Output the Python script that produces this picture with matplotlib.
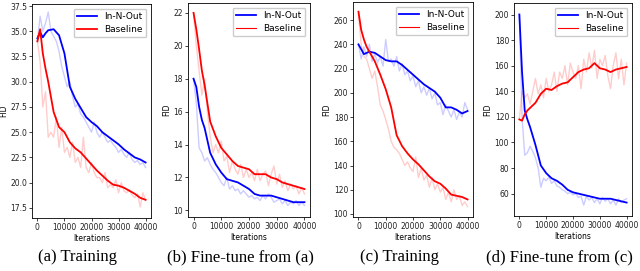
import matplotlib.pyplot as plt
from matplotlib.lines import Line2D

# iteration grids
x_raw = list(range(0, 40001, 1000))
x_smooth = [0, 1000, 2000, 3000, 4000] + list(range(6000, 40001, 2000))

# (a) Training
a_blue_raw = [34.0, 36.5, 35.0, 35.8, 36.9, 35.0, 34.5, 34.0, 33.0, 31.5, 30.5, 29.5, 30.0, 28.5, 27.5,
              27.8, 26.8, 26.5, 26.0, 25.5, 25.0, 26.0, 25.0, 24.5, 25.0, 24.5, 24.0, 24.2, 23.8, 23.5,
              23.0, 23.3, 22.8, 22.5, 23.0, 22.3, 22.0, 22.2, 21.8, 22.0, 21.5]
a_red_raw = [34.0, 32.0, 27.5, 29.0, 24.5, 25.0, 24.5, 26.5, 23.5, 25.5, 23.0, 23.5, 22.5, 24.0, 22.0,
             22.5, 21.5, 24.5, 21.5, 21.0, 22.0, 21.0, 20.5, 20.5, 20.0, 21.0, 19.5, 19.8, 19.5, 20.3,
             19.0, 20.0, 19.2, 19.0, 19.3, 18.8, 18.5, 18.9, 17.6, 19.0, 18.3]
a_blue = [34.3, 34.9, 34.4, 34.8, 35.1, 35.2, 34.6, 32.8, 29.5, 28.3, 27.4, 26.5, 26.0, 25.6, 25.0,
          24.6, 24.2, 23.8, 23.3, 22.9, 22.5, 22.3, 22.0]
a_red = [34.0, 35.2, 32.8, 31.3, 30.0, 27.0, 25.5, 25.0, 24.0, 23.4, 23.0, 22.4, 21.8, 21.2, 20.7,
         20.2, 19.8, 19.7, 19.5, 19.2, 18.9, 18.5, 18.3]

# (b) Fine-tune from (a)
b_blue_raw = [18.0, 16.5, 13.8, 13.5, 13.0, 13.2, 12.8, 12.5, 12.3, 12.0, 11.7, 11.5, 12.0, 11.3, 11.5,
              11.2, 11.3, 11.0, 11.2, 11.0, 10.8, 10.9, 10.7, 10.8, 10.6, 10.9, 10.7, 11.0, 10.8, 10.5,
              10.6, 10.7, 10.4, 10.6, 10.3, 10.5, 10.4, 10.6, 10.3, 10.5, 10.3]
b_red_raw = [22.0, 20.0, 18.5, 17.0, 18.0, 16.0, 14.5, 13.5, 14.0, 13.5, 14.2, 13.0, 13.3, 12.3, 13.0,
             12.5, 12.2, 12.8, 12.0, 12.5, 12.0, 12.3, 11.8, 12.5, 11.8, 12.2, 12.4, 11.5, 12.2, 12.7,
             11.6, 12.2, 11.4, 11.8, 11.2, 11.6, 11.3, 11.5, 11.0, 11.4, 11.0]
b_blue = [18.0, 17.5, 16.3, 15.5, 15.0, 13.5, 12.8, 12.3, 11.9, 11.8, 11.7, 11.5, 11.3, 11.0, 10.9,
          10.9, 10.9, 10.8, 10.7, 10.6, 10.5, 10.5, 10.5]
b_red = [22.0, 21.0, 19.8, 18.5, 17.6, 15.4, 14.5, 13.8, 13.4, 13.0, 12.7, 12.6, 12.5, 12.2, 12.2,
         12.2, 12.0, 11.9, 11.7, 11.6, 11.5, 11.4, 11.3]

# (c) Training
c_blue_raw = [240, 228, 238, 230, 240, 226, 232, 225, 230, 222, 244, 226, 228, 222, 230, 218, 224, 215,
              218, 210, 214, 205, 210, 200, 205, 198, 204, 195, 200, 190, 192, 182, 190, 185, 180, 186,
              178, 184, 180, 192, 186]
c_red_raw = [265, 240, 230, 228, 220, 212, 218, 205, 190, 185, 178, 170, 160, 155, 153, 150, 145, 140,
             143, 138, 135, 147, 130, 138, 128, 132, 122, 130, 120, 125, 118, 122, 112, 118, 110, 120,
             112, 115, 107, 110, 106]
c_blue = [240, 236, 232, 233, 234, 233, 230, 227, 226, 226, 223, 219, 215, 211, 207, 204, 201, 196,
          188, 188, 186, 183, 185]
c_red = [267, 252, 244, 238, 234, 226, 215, 203, 188, 165, 156, 150, 145, 141, 136, 131, 127, 125,
         121, 116, 115, 114, 112]

# (d) Fine-tune from (c)
d_blue_raw = [200, 120, 90, 92, 97, 93, 88, 80, 65, 72, 70, 73, 68, 70, 66, 65, 63, 62, 60, 61, 59,
              60, 57, 58, 51, 58, 55, 57, 53, 56, 52, 57, 54, 56, 52, 55, 51, 56, 53, 55, 56]
d_red_raw = [118, 140, 135, 138, 130, 140, 150, 138, 145, 135, 150, 140, 145, 155, 140, 155, 150, 160,
             145, 162, 155, 150, 160, 142, 165, 155, 170, 158, 172, 150, 165, 160, 168, 152, 142, 160,
             170, 150, 165, 145, 162]
d_blue = [200, 155, 125, 118, 112, 98, 82, 76, 72, 70, 67, 63, 61, 60, 59, 58, 57, 56, 56, 56, 55,
          54, 53]
d_red = [118, 117, 122, 125, 127, 131, 138, 142, 141, 144, 146, 147, 151, 155, 157, 158, 162, 158,
         157, 155, 157, 158, 159]

panels = [
    ("(a) Training", a_blue_raw, a_red_raw, a_blue, a_red, (16.5, 37.7), [17.5, 20.0, 22.5, 25.0, 27.5, 30.0, 32.5, 35.0, 37.5], "%.1f"),
    ("(b) Fine-tune from (a)", b_blue_raw, b_red_raw, b_blue, b_red, (9.6, 22.6), [10, 12, 14, 16, 18, 20, 22], "%d"),
    ("(c) Training", c_blue_raw, c_red_raw, c_blue, c_red, (97.5, 275), [100, 120, 140, 160, 180, 200, 220, 240, 260], "%d"),
    ("(d) Fine-tune from (c)", d_blue_raw, d_red_raw, d_blue, d_red, (42.5, 209), [60, 80, 100, 120, 140, 160, 180, 200], "%d"),
]

# axes boxes in pixels: left, right, top, bottom
boxes = [(32, 151, 4, 218), (188, 310, 3, 217), (353, 473, 2, 217), (514, 632, 3, 216)]
caption_x = [78, 240, 400, 559]

W, H = 640, 271
fig = plt.figure(figsize=(W / 100, H / 100), dpi=100)

for i, (cap, braw, rraw, bs, rs, ylim, yticks, fmt) in enumerate(panels):
    l, r, t, b = boxes[i]
    ax = fig.add_axes([l / W, (H - b) / H, (r - l) / W, (b - t) / H])
    ax.plot(x_raw, braw, color="blue", alpha=0.2, lw=1.0)
    ax.plot(x_raw, rraw, color="red", alpha=0.2, lw=1.0)
    ax.plot(x_smooth, bs, color="blue", lw=1.3)
    ax.plot(x_smooth, rs, color="red", lw=1.3)
    ax.set_xlim(-2000, 42000)
    ax.set_ylim(*ylim)
    ax.set_xticks([0, 10000, 20000, 30000, 40000])
    ax.set_yticks(yticks)
    ax.yaxis.set_major_formatter(plt.FormatStrFormatter(fmt))
    ax.tick_params(labelsize=5.5, length=2, width=0.6, pad=1.5, colors="#222222")
    for s in ax.spines.values():
        s.set_linewidth(0.6)
    ax.set_xlabel("Iterations", fontsize=5.5, labelpad=1.5)
    ax.set_ylabel("FID", fontsize=5.5, labelpad=1.5)
    red_lw = 1.3 if i == 0 else 0.8
    handles = [Line2D([], [], color="blue", lw=1.3), Line2D([], [], color="red", lw=red_lw)]
    ax.legend(handles, ["In-N-Out", "Baseline"], loc="upper right", fontsize=6.5,
              handlelength=2.2, borderpad=0.4, labelspacing=0.4, handletextpad=0.8,
              framealpha=1, edgecolor="#cccccc", fancybox=True)
    fig.text(caption_x[i] / W, (H - 257) / H, cap, ha="center", va="center",
             fontsize=12, family="Liberation Serif")

fig.savefig("out.png", dpi=100)
